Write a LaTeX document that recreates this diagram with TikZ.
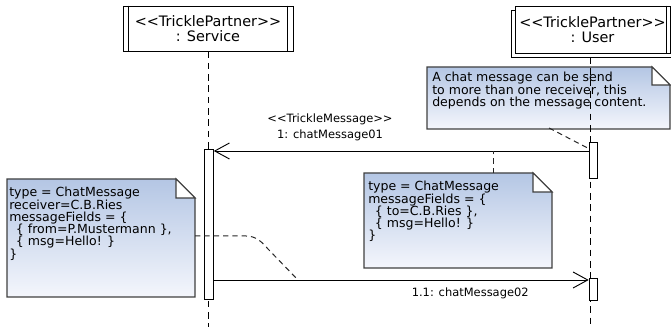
\documentclass[tikz,border=0pt]{standalone}
\usepackage{fontspec}
\setmainfont{DejaVu Sans}[Ligatures=TeXOff]
\usetikzlibrary{arrows.meta}
\definecolor{notetop}{RGB}{180,198,228}
\definecolor{notebot}{RGB}{244,246,252}
\definecolor{noteline}{RGB}{64,64,64}
\newcommand{\umlnote}[5]{%
  \shadedraw[note] (#1,#2) -- (#3-#5,#2) -- (#3,#2+#5) -- (#3,#4) -- (#1,#4) -- cycle;
  \filldraw[fold] (#3-#5,#2) -- (#3-#5,#2+#5) -- (#3,#2+#5) -- cycle;}
\begin{document}
\begin{tikzpicture}[x=0.75pt, y=-0.75pt,
  head/.style={draw, fill=white, line width=0.7pt, inner sep=0pt, align=center,
    font={\fontsize{10.8pt}{11pt}\selectfont\lineskiplimit=-20pt}},
  act/.style={draw, fill=white, line width=0.7pt, inner sep=0pt, minimum width=6.5pt},
  life/.style={line width=0.7pt, dash pattern=on 5pt off 3.5pt},
  msg/.style={line width=0.7pt, -{Straight Barb[length=11pt, width=12pt, line width=0.7pt]}},
  lbl/.style={inner sep=0pt, align=center, font={\fontsize{8.6pt}{12pt}\selectfont}},
  note/.style={draw=noteline, line width=0.8pt, top color=notetop, bottom color=notebot},
  fold/.style={draw=noteline, line width=0.8pt, fill=white},
  ntext/.style={anchor=north west, inner sep=0pt, align=left,
    font={\fontsize{9.4pt}{9.2pt}\selectfont\lineskiplimit=-20pt}},
  link/.style={line width=0.75pt, black!85, dash pattern=on 4pt off 3pt}]
 \useasboundingbox (0,0) rectangle (671,327);
 \umlnote{427}{67}{670}{129}{18}
 \umlnote{364}{173}{552}{268}{19}
 \umlnote{7}{179}{195}{297}{19}
 \node[ntext] (t1) at (432,72) {A chat message can be send\\to more than one receiver, this\\depends on the message content.};
 \node[ntext] (t2) at (368,181) {type = ChatMessage\\messageFields = \{\\\hspace*{5pt}\{ to=C.B.Ries \},\\\hspace*{5pt}\{ msg=Hello! \}\\\}};
 \node[ntext] (t3) at (9,187) {type = ChatMessage\\receiver=C.B.Ries\\messageFields = \{\\\hspace*{5pt}\{ from=P.Mustermann \},\\\hspace*{5pt}\{ msg=Hello! \}\\\}};
 \node[head, minimum width=127.5pt, minimum height=33.75pt] (svc) at (208,28.5) {<<TricklePartner>>\\: Service};
 \draw[line width=0.7pt] ([xshift=4.5pt]svc.north west) -- ([xshift=4.5pt]svc.south west)
   ([xshift=-4.5pt]svc.north east) -- ([xshift=-4.5pt]svc.south east);
 \draw[line width=0.7pt, fill=white] (511,10) rectangle (700,57);
 \node[head, minimum width=116.25pt, minimum height=35.25pt] (usr) at (592.5,29.5) {<<TricklePartner>>\\: User};
 \draw[line width=0.7pt] ([xshift=-3pt]usr.north east) -- ([xshift=-3pt]usr.south east);
 \coordinate (ub) at (590,57);
 \draw[life] (svc.south) -- (svc.south |- 0,327);
 \draw[life] (ub) -- (ub |- 0,327);
 \node[act, minimum height=112.5pt] (sA) at (209,224) {};
 \node[act, minimum height=27pt] (uA1) at (593.5,160) {};
 \node[act, minimum height=16.5pt] (uA2) at (593.5,289) {};
 \coordinate (m1) at (0,151);
 \coordinate (m2) at (0,280);
 \draw[msg] (uA1.west |- m1) -- node[lbl, pos=0.69, above=7.5pt] {<<TrickleMessage>>\\1: chatMessage01} (sA.east |- m1);
 \draw[msg] (sA.east |- m2) -- node[lbl, pos=0.684, below=5.8pt] {1.1: chatMessage02} (uA2.west |- m2);
 \coordinate (k1) at (549,128);
 \coordinate (k2) at (493,173);
 \coordinate (k3) at (195,236);
 \coordinate (k4) at (298,280);
 \draw[link] (k1) -- ([yshift=-5.25pt]uA1.north west);
 \draw[link] (k2) -- (k2 |- m1);
 \draw[link] (k3) -- (246,236) .. controls (256,236) and (262,242) .. (268,249) -- (k4);
\end{tikzpicture}
\end{document}
